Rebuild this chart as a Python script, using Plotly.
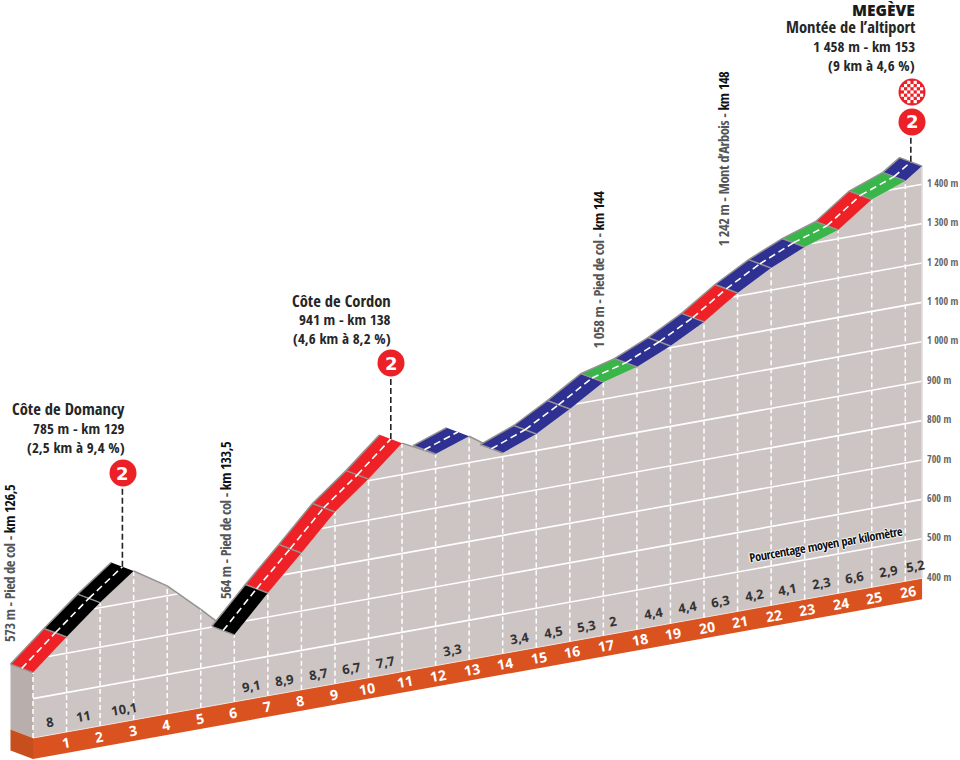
import plotly.graph_objects as go

# ---- data ----
km = sorted(list(range(27)) + [26.5])
elevation = [566, 641, 713, 778, 725, 650, 570, 661, 747, 836, 904, 980, 937, 967, 909, 942,
             990, 1043, 1066, 1104, 1150, 1208, 1256, 1294, 1322, 1384, 1416, 1446]
percent = [8, 11, 10.1, None, None, None, 9.1, 8.9, 8.7, 6.7, 7.7, None, 3.3, None, 3.4, 4.5,
           5.3, 2, 4.4, 4.4, 6.3, 4.2, 4.1, 2.3, 6.6, 2.9, 5.2]
grid_levels = [500, 600, 700, 800, 900, 1000, 1100, 1200, 1300, 1400]
axis_levels = [400, 500, 600, 700, 800, 900, 1000, 1100, 1200, 1300, 1400]
axis_labels = ["400 m", "500 m", "600 m", "700 m", "800 m", "900 m", "1 000 m", "1 100 m",
               "1 200 m", "1 300 m", "1 400 m"]
km_labels = list(range(1, 27))
col_km = [3, 11, 26.5]

# ---- oblique projection expressed in data units ----
PX_KM = 33.55
PX_M = 0.394
SHEAR = 6.03 / PX_M          # metres of apparent rise per km
BASE = 400
DK = -22.5 / PX_KM           # road depth
DM = 8.5 / PX_M
BAND = 21 / PX_M             # orange band height


def Y(k, e):
    return e + SHEAR * k


NARROW = "Open Sans Condensed, Open Sans, sans-serif"
OPEN = "Open Sans, sans-serif"
RED, BLACK, BLUE, GREEN = "#ee2226", "#000000", "#2e3192", "#39b54a"
EDGE = "#969291"
SURF = "#cdc5c4"


def colour(p):
    if p is None:
        return None
    if p > 9:
        return BLACK
    if p > 6:
        return RED
    if p > 3:
        return BLUE
    return GREEN


fig = go.Figure()


def poly(xs, ys, fill):
    fig.add_trace(go.Scatter(x=xs, y=ys, mode="lines", fill="toself", fillcolor=fill,
                             line=dict(width=0), hoverinfo="skip", showlegend=False))


def line(xs, ys, color, width=1.5, dash=None):
    fig.add_trace(go.Scatter(x=xs, y=ys, mode="lines", line=dict(color=color, width=width, dash=dash),
                             hoverinfo="skip", showlegend=False))


prof_y = [Y(k, e) for k, e in zip(km, elevation)]
end = km[-1]

# left wall, front surface, orange band
poly([0, DK, DK, 0], [prof_y[0], prof_y[0] + DM, Y(0, BASE) + DM, Y(0, BASE)], "#b8afac")
poly(km + [end, 0], prof_y + [Y(end, BASE), Y(0, BASE)], SURF)
poly([0, DK, DK, 0], [Y(0, BASE), Y(0, BASE) + DM, Y(0, BASE) + DM - BAND, Y(0, BASE) - BAND], "#c64f1d")
poly([0, end, end, 0], [Y(0, BASE), Y(end, BASE), Y(end, BASE) - BAND, Y(0, BASE) - BAND], "#da521f")
line([0, end], [Y(0, BASE), Y(end, BASE)], "#f1e3dd", 1)

# elevation grid clipped to the profile
for lvl in grid_levels:
    run = []
    runs = [run]
    for i in range(len(km) - 1):
        k0, k1, e0, e1 = km[i], km[i + 1], elevation[i], elevation[i + 1]
        if e0 >= lvl:
            run.append(k0)
        if (e0 - lvl) * (e1 - lvl) < 0:
            kc = k0 + (lvl - e0) / (e1 - e0) * (k1 - k0)
            run.append(kc)
            if e1 < lvl:
                run = []
                runs.append(run)
    if elevation[-1] >= lvl:
        run.append(end)
    for r in runs:
        if len(r) > 1:
            line(r, [Y(k, lvl) for k in r], "#ffffff", 1.6)

# km dashes
for i, k in enumerate(km[:-1]):
    line([k, k], [Y(k, BASE), prof_y[i]], "#ffffff", 1.5, "5px,3px")
line([end, end], [Y(end, BASE), prof_y[-1]], "#e4dfde", 1.5)

# road edge on unrated stretches
for i, p in enumerate(percent):
    if p is None:
        line([km[i], km[i + 1]], [prof_y[i], prof_y[i + 1]], EDGE, 1.5)

# road bands
for i, p in enumerate(percent):
    c = colour(p)
    if c is None:
        continue
    a, b = km[i], km[i + 1]
    ya, yb = prof_y[i], prof_y[i + 1]
    poly([a, b, b + DK, a + DK], [ya, yb, yb + DM, ya + DM], c)
for i, p in enumerate(percent):
    if p is None:
        continue
    a, b = km[i], km[i + 1]
    ya, yb = prof_y[i], prof_y[i + 1]
    line([a + DK, b + DK], [ya + DM, yb + DM], EDGE, 1.5)
    line([a, a + DK], [ya, ya + DM], EDGE, 1.5)
line([end, end + DK], [prof_y[-1], prof_y[-1] + DM], EDGE, 1.5)
for i, p in enumerate(percent):
    if p is None:
        continue
    a, b = km[i], km[i + 1]
    ya, yb = prof_y[i], prof_y[i + 1]
    line([a + DK / 2, b + DK / 2], [ya + DM / 2, yb + DM / 2], "#ffffff", 1.6, "7px,4px")

# leader lines to the climb markers
tops = [487, 377, 135]
for k, top in zip(col_km, tops):
    i = km.index(k)
    xk = k + DK / 2
    ye = prof_y[i] + DM / 2
    top_val = BASE + (738 - top) / PX_M
    line([xk, xk], [ye, top_val], "#222222", 1.6, "6px,3px")

# elevation labels
fig.add_trace(go.Scatter(x=[end + 5 / PX_KM] * len(axis_levels), y=[Y(end, v) for v in axis_levels],
                         mode="text", text=axis_labels, textposition="middle right",
                         textfont=dict(family=NARROW, size=10, color="#666666", weight=300),
                         hoverinfo="skip", showlegend=False))

ann = []
# percentages along the ground
pct_shift = {2: 0.2, 17: -0.2, 26: -0.2}
for i, p in enumerate(percent):
    if p is None:
        continue
    t = str(p).replace(".", ",")
    k = i + 0.5 + pct_shift.get(i, 0)
    ann.append(dict(x=k, y=Y(k, BASE + 33), xref="x", yref="y", text=f"<b>{t}</b>", showarrow=False,
                    textangle=-10, xanchor="center", yanchor="middle",
                    font=dict(family=OPEN, size=13, color="#333333")))
for k in km_labels:
    kl = k + (0.08 if k >= 11 else -0.03)
    ann.append(dict(x=kl, y=Y(kl, BASE - BAND / 2), xref="x", yref="y", text=f"<b>{k}</b>", showarrow=False,
                    textangle=-10, xanchor="center", yanchor="middle",
                    font=dict(family=OPEN, size=14, color="#ffffff")))


def px_x(x):
    return x / 960


def px_y(y):
    return 1 - y / 760


def label(x, y, text, size=15, family=NARROW, color="#262626", anchor="right", weight=None):
    f = dict(family=family, size=size, color=color)
    if weight:
        f["weight"] = weight
    ann.append(dict(x=px_x(x), y=px_y(y), xref="paper", yref="paper", text=text, showarrow=False,
                    xanchor=anchor, yanchor="middle", font=f))


def vlabel(x, bottom, plain, bold):
    ann.append(dict(x=px_x(x), y=px_y(bottom), xref="paper", yref="paper", showarrow=False,
                    text=f"{plain} <span style='color:#111111;font-weight:bold'>{bold}</span>", textangle=-90,
                    xanchor="center", yanchor="bottom",
                    font=dict(family=NARROW, size=14.5, color="#555555", weight=300)))


label(127, 409, "<b>Côte de Domancy</b>", size=16.5)
label(127, 428, "<b>785 m - km 129</b>")
label(127, 447, "<b>(2,5 km à 9,4 %)</b>")
label(393, 300, "<b>Côte de Cordon</b>", size=16.5)
label(393, 319, "<b>941 m - km 138</b>")
label(393, 338, "<b>(4,6 km à 8,2 %)</b>")
label(917, 10, "MEGÈVE", size=15.5, family=OPEN, color="#1a1a1a", weight=800)
label(917, 27, "<b>Montée de l’altiport</b>", size=16.5)
label(917, 46, "<b>1 458 m - km 153</b>")
label(917, 65, "<b>(9 km à 4,6 %)</b>")
vlabel(9, 652, "573 m - Pied de col -", "km 126,5")
vlabel(225, 609, "564 m - Pied de col -", "km 133,5")
vlabel(598, 358, "1 058 m - Pied de col -", "km 144")
vlabel(723, 257, "1 242 m - Mont d’Arbois -", "km 148")
ann.append(dict(x=px_x(826), y=px_y(544), xref="paper", yref="paper", showarrow=False, textangle=-10,
                xanchor="center", yanchor="middle",
                text="<b>Pourcentage moyen par kilomètre</b>",
                font=dict(family=NARROW, size=12.5, color="#111111",
                          shadow="1px 0 1px #fff,-1px 0 1px #fff,0 1px 1px #fff,0 -1px 1px #fff")))

# climb markers
shapes = []
R = 13.5


def disc(cx, cy, r, fill):
    shapes.append(dict(type="circle", xref="paper", yref="paper", x0=px_x(cx - r), x1=px_x(cx + r),
                       y0=px_y(cy + r), y1=px_y(cy - r), fillcolor=fill, line=dict(width=0), layer="below"))


for cx, cy in [(123, 473), (391, 363), (912, 122)]:
    disc(cx, cy, R, "#ec2027")
    ann.append(dict(x=px_x(cx), y=px_y(cy), xref="paper", yref="paper", showarrow=False, text="<b>2</b>",
                    xanchor="center", yanchor="middle",
                    font=dict(family="DejaVu Sans", size=18, color="#ffffff")))
disc(912, 92, R, "#ec2027")
S = 3.2
for row in range(-3, 4):
    for col in range(-3, 4):
        if (row + col) % 2 == 0 and (row ** 2 + col ** 2) <= 10:
            x0 = 912 + col * S
            y0 = 92 + row * S
            shapes.append(dict(type="rect", xref="paper", yref="paper", x0=px_x(x0 - S / 2), x1=px_x(x0 + S / 2),
                               y0=px_y(y0 + S / 2), y1=px_y(y0 - S / 2), fillcolor="#ffffff", line=dict(width=0),
                               layer="below"))

fig.update_layout(
    width=960, height=760, margin=dict(l=0, r=0, t=0, b=0), autosize=False,
    paper_bgcolor="#ffffff", plot_bgcolor="rgba(0,0,0,0)", showlegend=False,
    xaxis=dict(visible=False, range=[-33 / PX_KM, 927 / PX_KM], fixedrange=True),
    yaxis=dict(visible=False, range=[BASE - 22 / PX_M, BASE + 738 / PX_M], fixedrange=True),
    annotations=ann, shapes=shapes,
)
post = """
document.body.style.margin='0';document.body.style.overflow='hidden';
document.querySelectorAll('text').forEach(function(t){
  if ((t.style.fontFamily||'').indexOf('Condensed')>=0){
    t.style.fontStretch='75%';
    var s=t.textContent;
    if (s.indexOf('Pied')>=0 || s.indexOf('Arbois')>=0){ t.style.letterSpacing='-0.5px'; }
    if (s.indexOf('Pourcentage')>=0){ t.style.letterSpacing='-0.4px'; }
  }
});
"""
fig.write_html("out.html", config=dict(displayModeBar=False), post_script=post)
